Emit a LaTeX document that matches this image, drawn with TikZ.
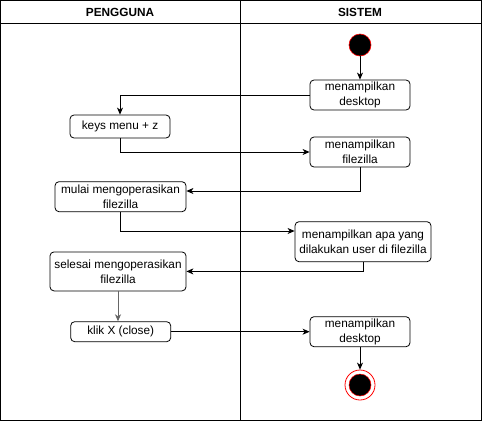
\documentclass[tikz,border=0pt]{standalone}
\usepackage{fontspec}
\setmainfont{Liberation Sans}
\usetikzlibrary{arrows.meta}
\begin{document}
\begin{tikzpicture}[x=1pt,y=-1pt,
  act/.style={draw=black,line width=0.8pt,rounded corners=4pt,align=center,inner sep=0pt,
    font=\fontsize{11.8}{15}\selectfont,text=black},
  flow/.style={draw=black,line width=0.8pt,-{Stealth[length=7pt,width=6pt,inset=2pt]}},
  lane/.style={draw=black,line width=0.9pt},
  hdr/.style={font=\bfseries\fontsize{11.8}{14}\selectfont}]
\useasboundingbox (0,0) rectangle (482,421);
% swimlanes
\draw[lane] (0.5,0.5) rectangle (481.5,420.5);
\draw[lane] (0.5,23) -- (481.5,23);
\draw[lane] (240.5,0.5) -- (240.5,420.5);
\node[hdr] (h1) at (120,12) {PENGGUNA};
\node[hdr] (h2) at (360,12) {SISTEM};
% nodes
\node[circle,fill=black,draw=red,line width=0.6pt,minimum size=22pt,inner sep=0pt] (start) at (360,45) {};
\node[act,minimum width=100pt,minimum height=30pt] (desk1) at (360,95) {menampilkan\\desktop};
\node[act,minimum width=100pt,minimum height=23pt] (keys) at (120,126.5) {keys menu + z};
\node[act,minimum width=100pt,minimum height=30pt] (filez) at (360,152) {menampilkan\\filezilla};
\node[act,minimum width=131pt,minimum height=30pt] (mulai) at (120.5,196.7) {mulai mengoperasikan\\filezilla};
\node[act,minimum width=136pt,minimum height=40pt] (apa) at (363,241.7) {menampilkan apa yang\\dilakukan user di filezilla};
\node[act,minimum width=136pt,minimum height=39pt] (selesai) at (118,271.4) {selesai mengoperasikan\\filezilla};
\node[act,minimum width=100pt,minimum height=20pt] (klik) at (120.7,331.7) {klik X (close)};
\node[act,minimum width=100pt,minimum height=30pt] (desk2) at (360,331.7) {menampilkan\\desktop};
\node[circle,draw=red,fill=white,line width=0.8pt,minimum size=30pt,inner sep=0pt] (end) at (360,385) {};
\node[circle,fill=black,draw=red,line width=0.5pt,minimum size=22pt,inner sep=0pt] (endin) at (360,385) {};
% connectors
\draw[flow] (start) -- (desk1);
\draw[flow] (desk1.west) -| (keys.north);
\draw[flow] (keys.south) |- (filez.west);
\draw[flow] (filez.south) |- ([yshift=5.7pt]mulai.east);
\draw[flow] (mulai.south) |- ([yshift=10.7pt]apa.west);
\draw[flow] (apa.south) |- (selesai.east);
\draw[flow,draw=black!60] (selesai.south) -- (selesai.south |- klik.north);
\draw[flow] (klik.east) -- (desk2.west);
\draw[flow] (desk2.south) -- (end.north);
\end{tikzpicture}
\end{document}
